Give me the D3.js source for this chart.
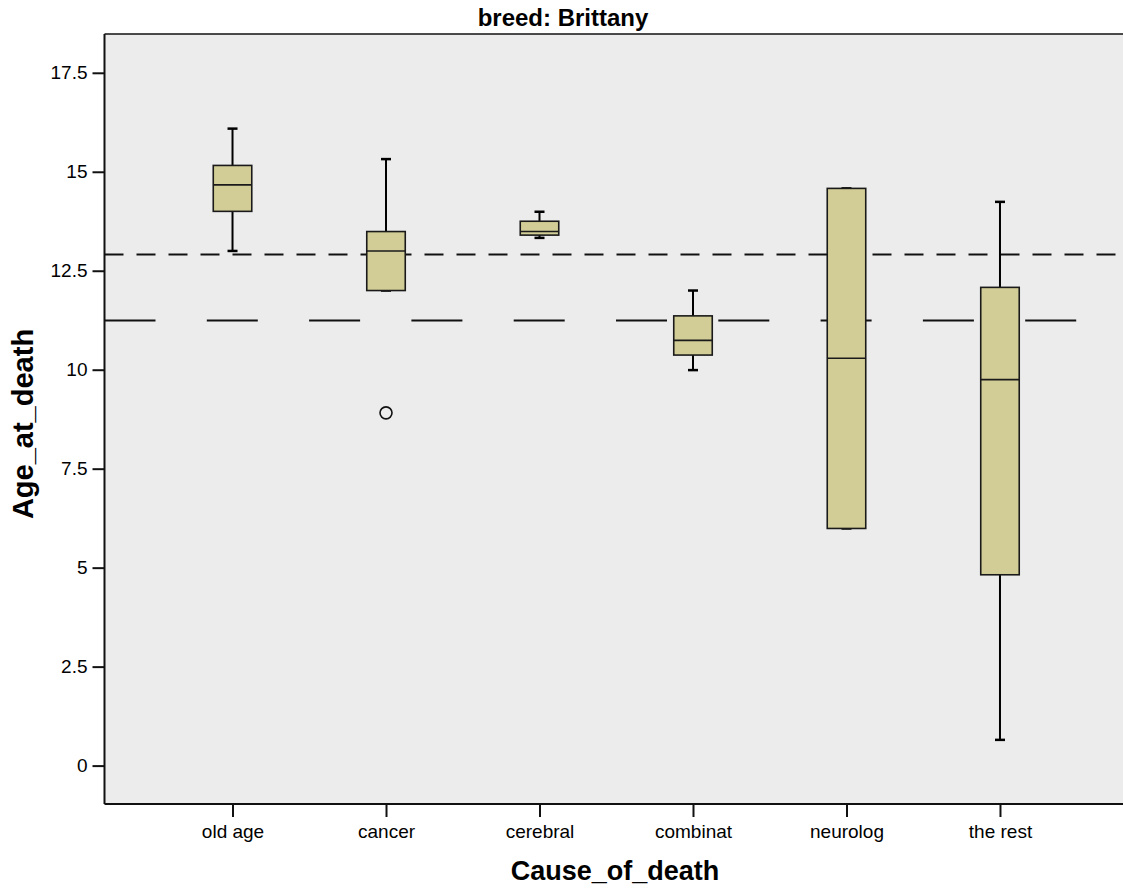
<!DOCTYPE html>
<html>
<head>
<meta charset="utf-8">
<script src="https://cdn.jsdelivr.net/npm/d3@7"></script>
<style>
  body { margin: 0; background: #fff; }
  text { font-family: "Liberation Sans", Arial, sans-serif; fill: #000; }
</style>
</head>
<body>
<div id="chart"></div>
<script>
// data
const causes = ["old age", "cancer", "cerebral", "combinat", "neurolog", "the rest"]
const whiskerLow  = [13.0, 12.0, 13.33, 9.99, 5.99, 0.65]
const q1          = [14.0, 12.0, 13.40, 10.37, 5.99, 4.82]
const median      = [14.67, 13.0, 13.49, 10.74, 10.29, 9.75]
const q3          = [15.16, 13.49, 13.75, 11.36, 14.58, 12.08]
const whiskerHigh = [16.09, 15.32, 13.99, 12.0, 14.58, 14.24]
const outliers = [{cause: "cancer", value: 8.91}]
const refShort = 12.91   // short-dash reference line
const refLong = 11.24    // long-dash reference line
const yTicks = [0, 2.5, 5, 7.5, 10, 12.5, 15, 17.5]

const boxes = causes.map((c, i) => ({
    cause: c, lo: whiskerLow[i], q1: q1[i], med: median[i], q3: q3[i], hi: whiskerHigh[i]
}))

//constants
const width = 1123
const height = 888
const margins = { top: 34, bottom: 84, left: 104.5, right: -5 }

//scales
const xScale = d3.scalePoint()
    .domain(causes)
    .range([margins.left, width - margins.right])
    .padding(0.834)
const yScale = d3.scaleLinear()
    .domain([-0.97, 18.48])
    .range([height - margins.bottom, margins.top])

const boxW = 38.5
const capW = 10

const svg = d3.select("#chart")
    .append("svg")
    .attr("width", width)
    .attr("height", height)

//plot background
svg.append("rect")
    .attr("x", margins.left)
    .attr("y", margins.top)
    .attr("width", width - margins.right - margins.left)
    .attr("height", height - margins.bottom - margins.top)
    .attr("fill", "#ececec")

//reference lines
svg.append("line")
    .attr("x1", margins.left).attr("x2", width)
    .attr("y1", yScale(refShort)).attr("y2", yScale(refShort))
    .attr("stroke", "#111").attr("stroke-width", 2)
    .attr("stroke-dasharray", "19,13")
svg.append("line")
    .attr("x1", margins.left).attr("x2", width)
    .attr("y1", yScale(refLong)).attr("y2", yScale(refLong))
    .attr("stroke", "#111").attr("stroke-width", 2)
    .attr("stroke-dasharray", "51,51.3")

//boxes
const g = svg.selectAll("g.box")
    .data(boxes)
    .join("g")
    .attr("class", "box")
    .attr("transform", d => `translate(${xScale(d.cause)},0)`)

g.append("line") // whisker
    .attr("y1", d => yScale(d.lo)).attr("y2", d => yScale(d.hi))
    .attr("stroke", "#000").attr("stroke-width", 2)
g.append("line") // top cap
    .attr("x1", -capW / 2).attr("x2", capW / 2)
    .attr("y1", d => yScale(d.hi)).attr("y2", d => yScale(d.hi))
    .attr("stroke", "#000").attr("stroke-width", 2.5)
g.append("line") // bottom cap
    .attr("x1", -capW / 2).attr("x2", capW / 2)
    .attr("y1", d => yScale(d.lo)).attr("y2", d => yScale(d.lo))
    .attr("stroke", "#000").attr("stroke-width", 2.5)
g.append("rect")
    .attr("x", -boxW / 2)
    .attr("width", boxW)
    .attr("y", d => yScale(d.q3))
    .attr("height", d => yScale(d.q1) - yScale(d.q3))
    .attr("fill", "#d2cd96")
    .attr("stroke", "#1a1a1a")
    .attr("stroke-width", 1.6)
g.append("line") // median
    .attr("x1", -boxW / 2).attr("x2", boxW / 2)
    .attr("y1", d => yScale(d.med)).attr("y2", d => yScale(d.med))
    .attr("stroke", "#1a1a1a").attr("stroke-width", 1.6)

//outliers
svg.selectAll("circle.out")
    .data(outliers)
    .join("circle")
    .attr("class", "out")
    .attr("cx", d => xScale(d.cause))
    .attr("cy", d => yScale(d.value))
    .attr("r", 6)
    .attr("fill", "none")
    .attr("stroke", "#111")
    .attr("stroke-width", 1.6)

//top border
svg.append("line")
    .attr("x1", margins.left).attr("x2", width)
    .attr("y1", margins.top).attr("y2", margins.top)
    .attr("stroke", "#111").attr("stroke-width", 1.5)

//axes
const yAxis = svg.append("g")
    .attr("transform", `translate(${margins.left},0)`)
    .call(d3.axisLeft(yScale).tickValues(yTicks).tickSize(12).tickSizeOuter(0).tickPadding(5)
        .tickFormat(d => d3.format("~g")(d)))
const xAxis = svg.append("g")
    .attr("transform", `translate(0,${height - margins.bottom})`)
    .call(d3.axisBottom(xScale).tickSize(13).tickSizeOuter(0).tickPadding(8))

;[yAxis, xAxis].forEach(a => {
    a.selectAll("path.domain").attr("stroke", "#111").attr("stroke-width", 2)
    a.selectAll(".tick line").attr("stroke", "#111").attr("stroke-width", 2)
    a.selectAll(".tick text")
        .attr("font-family", "Liberation Sans, Arial, sans-serif")
        .attr("font-size", 19)
        .attr("fill", "#111")
})
yAxis.select("path.domain").attr("d", `M0,${margins.top}V${height - margins.bottom}`)
xAxis.select("path.domain").attr("d", `M${margins.left},0H${width}`)

//titles
svg.append("text")
    .attr("x", 563)
    .attr("y", 26)
    .attr("text-anchor", "middle")
    .attr("font-weight", "bold")
    .attr("font-size", 24)
    .text("breed: Brittany")
svg.append("text")
    .attr("x", 615)
    .attr("y", 880)
    .attr("text-anchor", "middle")
    .attr("font-weight", "bold")
    .attr("font-size", 27)
    .text("Cause_of_death")
svg.append("text")
    .attr("transform", "translate(33,424) rotate(-90)")
    .attr("text-anchor", "middle")
    .attr("font-weight", "bold")
    .attr("font-size", 29)
    .text("Age_at_death")
</script>
</body>
</html>
